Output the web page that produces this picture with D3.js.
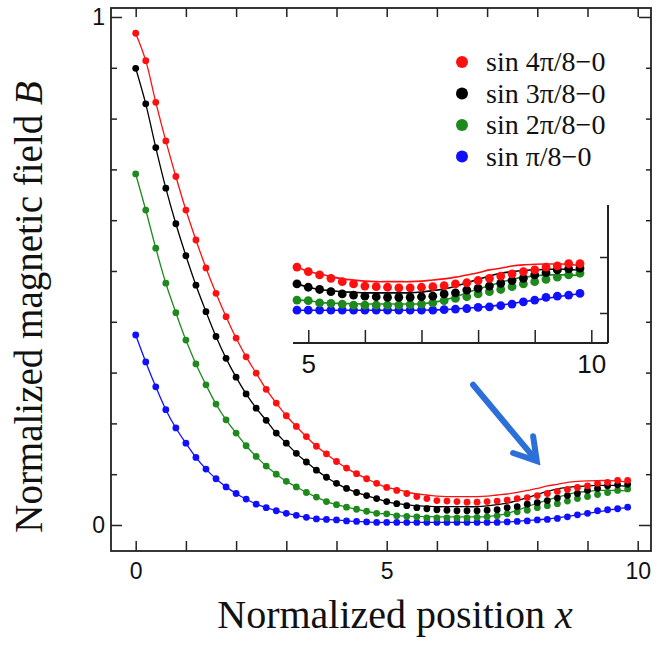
<!DOCTYPE html>
<html>
<head>
<meta charset="utf-8">
<script src="https://cdn.jsdelivr.net/npm/d3@7"></script>
<style>
body { margin: 0; background: #fff; }
</style>
</head>
<body>
<svg id="drawing_region"></svg>
<script>
// measured points, x = 0 .. 9.8 step 0.2
const positions = [0, 0.2, 0.4, 0.6, 0.8, 1, 1.2, 1.4, 1.6, 1.8, 2, 2.2, 2.4, 2.6, 2.8, 3, 3.2, 3.4, 3.6, 3.8,
    4, 4.2, 4.4, 4.6, 4.8, 5, 5.2, 5.4, 5.6, 5.8, 6, 6.2, 6.4, 6.6, 6.8, 7, 7.2, 7.4, 7.6, 7.8,
    8, 8.2, 8.4, 8.6, 8.8, 9, 9.2, 9.4, 9.6, 9.8];

const red_points = [0.968, 0.914, 0.832, 0.756, 0.686, 0.620, 0.561, 0.506, 0.456, 0.410,
    0.368, 0.331, 0.299, 0.267, 0.240, 0.215, 0.194, 0.174, 0.155, 0.140,
    0.125, 0.112, 0.101, 0.091, 0.082, 0.074, 0.068, 0.062, 0.056, 0.052,
    0.048, 0.047, 0.046, 0.045, 0.045, 0.046, 0.047, 0.049, 0.052, 0.054,
    0.058, 0.062, 0.066, 0.070, 0.074, 0.077, 0.082, 0.084, 0.088, 0.088];
const black_points = [0.899, 0.829, 0.743, 0.663, 0.593, 0.530, 0.472, 0.420, 0.371, 0.328,
    0.291, 0.258, 0.230, 0.206, 0.181, 0.161, 0.141, 0.124, 0.108, 0.094,
    0.082, 0.072, 0.064, 0.058, 0.052, 0.046, 0.042, 0.038, 0.034, 0.032,
    0.030, 0.029, 0.028, 0.028, 0.028, 0.029, 0.030, 0.034, 0.036, 0.041,
    0.044, 0.048, 0.053, 0.058, 0.062, 0.068, 0.072, 0.077, 0.079, 0.080];
const green_points = [0.691, 0.620, 0.545, 0.476, 0.418, 0.364, 0.317, 0.276, 0.238, 0.207,
    0.181, 0.156, 0.135, 0.116, 0.100, 0.086, 0.075, 0.064, 0.055, 0.046,
    0.040, 0.035, 0.031, 0.027, 0.023, 0.022, 0.018, 0.017, 0.016, 0.014,
    0.014, 0.014, 0.014, 0.014, 0.015, 0.016, 0.018, 0.022, 0.026, 0.029,
    0.034, 0.038, 0.042, 0.047, 0.052, 0.056, 0.060, 0.064, 0.068, 0.071];
const blue_points = [0.374, 0.321, 0.272, 0.227, 0.191, 0.161, 0.133, 0.110, 0.091, 0.075,
    0.062, 0.051, 0.041, 0.034, 0.028, 0.023, 0.019, 0.015, 0.012, 0.011,
    0.010, 0.008, 0.007, 0.006, 0.005, 0.005, 0.005, 0.005, 0.005, 0.005,
    0.005, 0.005, 0.005, 0.005, 0.005, 0.005, 0.005, 0.006, 0.007, 0.008,
    0.010, 0.011, 0.013, 0.016, 0.020, 0.023, 0.028, 0.030, 0.032, 0.035];

// calculated curves, x >= 5 (below 5 they run through the points)
const red_fit = [0.074, 0.070, 0.065, 0.061, 0.059, 0.057, 0.056, 0.056, 0.056, 0.056,
    0.057, 0.059, 0.061, 0.064, 0.068, 0.072, 0.077, 0.080, 0.084, 0.086,
    0.087, 0.0875, 0.0875, 0.087, 0.084];
const black_fit = [0.046, 0.042, 0.040, 0.038, 0.037, 0.036, 0.036, 0.036, 0.036, 0.036,
    0.0375, 0.040, 0.043, 0.048, 0.054, 0.060, 0.066, 0.071, 0.074, 0.076,
    0.077, 0.078, 0.078, 0.078, 0.0755];
const green_fit = [0.022, 0.019, 0.0175, 0.017, 0.0165, 0.016, 0.016, 0.016, 0.016, 0.016,
    0.0165, 0.019, 0.0225, 0.029, 0.036, 0.043, 0.049, 0.055, 0.060, 0.064,
    0.066, 0.068, 0.068, 0.068, 0.067];
const blue_fit = [0.005, 0.005, 0.005, 0.005, 0.005, 0.005, 0.005, 0.005, 0.005, 0.005,
    0.005, 0.0055, 0.006, 0.007, 0.009, 0.010, 0.012, 0.014, 0.017, 0.020,
    0.023, 0.026, 0.029, 0.032, 0.034];

const series_labels = ["sin 4\u03c0/8\u22120", "sin 3\u03c0/8\u22120", "sin 2\u03c0/8\u22120", "sin \u03c0/8\u22120"];
const series_colors = ["#ff1010", "#000000", "#1e8a1e", "#1010ff"];

const x_ticks = [0, 1, 2, 3, 4, 5, 6, 7, 8, 9, 10];
const x_labels = [0, 5, 10];
const y_ticks = [0, 0.1, 0.2, 0.3, 0.4, 0.5, 0.6, 0.7, 0.8, 0.9, 1];
const y_labels = [0, 1];
const inset_x_ticks = [5, 6, 7, 8, 9, 10];
const inset_x_labels = [5, 10];
const inset_y_ticks = [0, 0.1];

const series = [
    { label: series_labels[0], color: series_colors[0], points: red_points, fit: red_fit },
    { label: series_labels[1], color: series_colors[1], points: black_points, fit: black_fit },
    { label: series_labels[2], color: series_colors[2], points: green_points, fit: green_fit },
    { label: series_labels[3], color: series_colors[3], points: blue_points, fit: blue_fit }
];

const svg = d3.select('#drawing_region')
    .attr('width', 657)
    .attr('height', 645);

const frame = {left: 111, right: 651, top: 8, bottom: 551};

// 0 -> 135.7px, 10 -> 637.7px ; 0 -> 525px, 1 -> 17px
const xscale = d3.scaleLinear().domain([-0.492, 10.265]).range([frame.left, frame.right]);
const yscale = d3.scaleLinear().domain([-0.0512, 1.0177]).range([frame.bottom, frame.top]);

const axis_color = '#222';
const sans = "'Liberation Sans', Arial, sans-serif";
const serif = "'Liberation Serif', 'Times New Roman', serif";

function styleAxis(g, size) {
    g.attr('font-family', sans).attr('font-size', size);
    g.selectAll('line').attr('stroke', axis_color).attr('stroke-width', 1.5);
    g.selectAll('path.domain').remove();
    g.selectAll('text').attr('fill', '#111');
}

// frame
svg.append('rect')
    .attr('x', frame.left).attr('y', frame.top)
    .attr('width', frame.right - frame.left).attr('height', frame.bottom - frame.top)
    .attr('fill', 'none').attr('stroke', axis_color).attr('stroke-width', 1.8);

// bottom / top ticks
svg.append('g')
    .attr('transform', `translate(0, ${frame.bottom})`)
    .call(d3.axisBottom(xscale).tickValues(x_ticks).tickSize(-10).tickPadding(12)
        .tickFormat(d => x_labels.includes(d) ? d : ''))
    .call(g => styleAxis(g, 23));
svg.append('g')
    .attr('transform', `translate(0, ${frame.top})`)
    .call(d3.axisTop(xscale).tickValues(x_ticks).tickSize(-9).tickFormat(''))
    .call(g => styleAxis(g, 10));

// left / right ticks
const y_minor = y_ticks.filter(d => !y_labels.includes(d));
svg.append('g')
    .attr('transform', `translate(${frame.left}, 0)`)
    .call(d3.axisLeft(yscale).tickValues(y_labels).tickSize(-11).tickPadding(6)
        .tickFormat(d => d))
    .call(g => styleAxis(g, 23));
svg.append('g')
    .attr('transform', `translate(${frame.left}, 0)`)
    .call(d3.axisLeft(yscale).tickValues(y_minor).tickSize(-6).tickFormat(''))
    .call(g => styleAxis(g, 10));
svg.append('g')
    .attr('transform', `translate(${frame.right}, 0)`)
    .call(d3.axisRight(yscale).tickValues(y_labels).tickSize(-12).tickFormat(''))
    .call(g => styleAxis(g, 10));
svg.append('g')
    .attr('transform', `translate(${frame.right}, 0)`)
    .call(d3.axisRight(yscale).tickValues(y_minor).tickSize(-5).tickFormat(''))
    .call(g => styleAxis(g, 10));

// curves and points
const split = positions.indexOf(5);
series.forEach(s => {
    s.curve = s.points.slice(0, split).concat(s.fit);
});

function drawSeries(layer, xs, ys, from, radius, width) {
    const line = d3.line()
        .x((d, i) => xs(positions[from + i]))
        .y(d => ys(d))
        .curve(d3.curveCatmullRom);
    series.slice().reverse().forEach(s => {
        layer.append('path')
            .datum(s.curve.slice(from))
            .attr('d', line)
            .attr('fill', 'none')
            .attr('stroke', s.color)
            .attr('stroke-width', width);
        layer.selectAll(null)
            .data(s.points.slice(from))
            .join('circle')
            .attr('cx', (d, i) => xs(positions[from + i]))
            .attr('cy', d => ys(d))
            .attr('r', radius)
            .attr('fill', s.color);
    });
}

drawSeries(svg.append('g'), xscale, yscale, 0, 3.4, 1.3);

// inset: 5 -> 308.3px, 10 -> 591px ; 0 -> 313px, 0.1 -> 257px
const inset = {left: 293, right: 608, top: 205, bottom: 343};
const inset_x = d3.scaleLinear().domain([4.73, 10.295]).range([inset.left, inset.right]);
const inset_y = d3.scaleLinear().domain([-0.0536, 0.1929]).range([inset.bottom, inset.top]);

svg.append('line')
    .attr('x1', inset.left).attr('x2', inset.right)
    .attr('y1', inset.bottom).attr('y2', inset.bottom)
    .attr('stroke', axis_color).attr('stroke-width', 2);
svg.append('line')
    .attr('x1', inset.right).attr('x2', inset.right)
    .attr('y1', inset.top).attr('y2', inset.bottom)
    .attr('stroke', axis_color).attr('stroke-width', 2);

svg.append('g')
    .attr('transform', `translate(0, ${inset.bottom})`)
    .call(d3.axisBottom(inset_x).tickValues(inset_x_ticks).tickSize(-13).tickPadding(12)
        .tickFormat(d => inset_x_labels.includes(d) ? d : ''))
    .call(g => styleAxis(g, 26));
svg.append('g')
    .attr('transform', `translate(${inset.right}, 0)`)
    .call(d3.axisRight(inset_y).tickValues(inset_y_ticks).tickSize(-8).tickFormat(''))
    .call(g => styleAxis(g, 10));

drawSeries(svg.append('g'), inset_x, inset_y, positions.indexOf(4.8), 4.4, 1.6);

// arrow pointing at the tail region
const arrow_from = [6.72, 0.276];
const arrow_to = [7.99, 0.126];
const ax0 = xscale(arrow_from[0]), ay0 = yscale(arrow_from[1]);
const ax1 = xscale(arrow_to[0]), ay1 = yscale(arrow_to[1]);
const ang = Math.atan2(ay1 - ay0, ax1 - ax0);
const head = 25, spread = 0.55;
svg.append('path')
    .attr('d', `M${ax0},${ay0}L${ax1 - 3 * Math.cos(ang)},${ay1 - 3 * Math.sin(ang)}` +
        `M${ax1 - head * Math.cos(ang - spread)},${ay1 - head * Math.sin(ang - spread)}` +
        `L${ax1},${ay1}` +
        `L${ax1 - head * Math.cos(ang + spread)},${ay1 - head * Math.sin(ang + spread)}`)
    .attr('fill', 'none')
    .attr('stroke', '#2d6fd9')
    .attr('stroke-width', 6)
    .attr('stroke-linejoin', 'miter')
    .attr('stroke-linecap', 'round');

// legend
const legend = svg.append('g').attr('transform', 'translate(462, 62)');
series.forEach((s, i) => {
    const row = legend.append('g').attr('transform', `translate(0, ${i * 31.5})`);
    row.append('circle').attr('r', 6).attr('fill', s.color);
    row.append('text')
        .attr('x', 24).attr('y', 9)
        .attr('font-family', serif)
        .attr('font-size', 28)
        .attr('fill', '#111')
        .text(s.label);
});

// axis titles
const xtitle = svg.append('text')
    .attr('x', 395).attr('y', 628)
    .attr('text-anchor', 'middle')
    .attr('font-family', serif)
    .attr('font-size', 40)
    .attr('fill', '#111');
xtitle.append('tspan').text('Normalized position ');
xtitle.append('tspan').attr('font-style', 'italic').text('x');

const ytitle = svg.append('text')
    .attr('transform', 'translate(42, 307) rotate(-90)')
    .attr('text-anchor', 'middle')
    .attr('font-family', serif)
    .attr('font-size', 39)
    .attr('fill', '#111');
ytitle.append('tspan').text('Normalized magnetic field ');
ytitle.append('tspan').attr('font-style', 'italic').text('B');
</script>
</body>
</html>
